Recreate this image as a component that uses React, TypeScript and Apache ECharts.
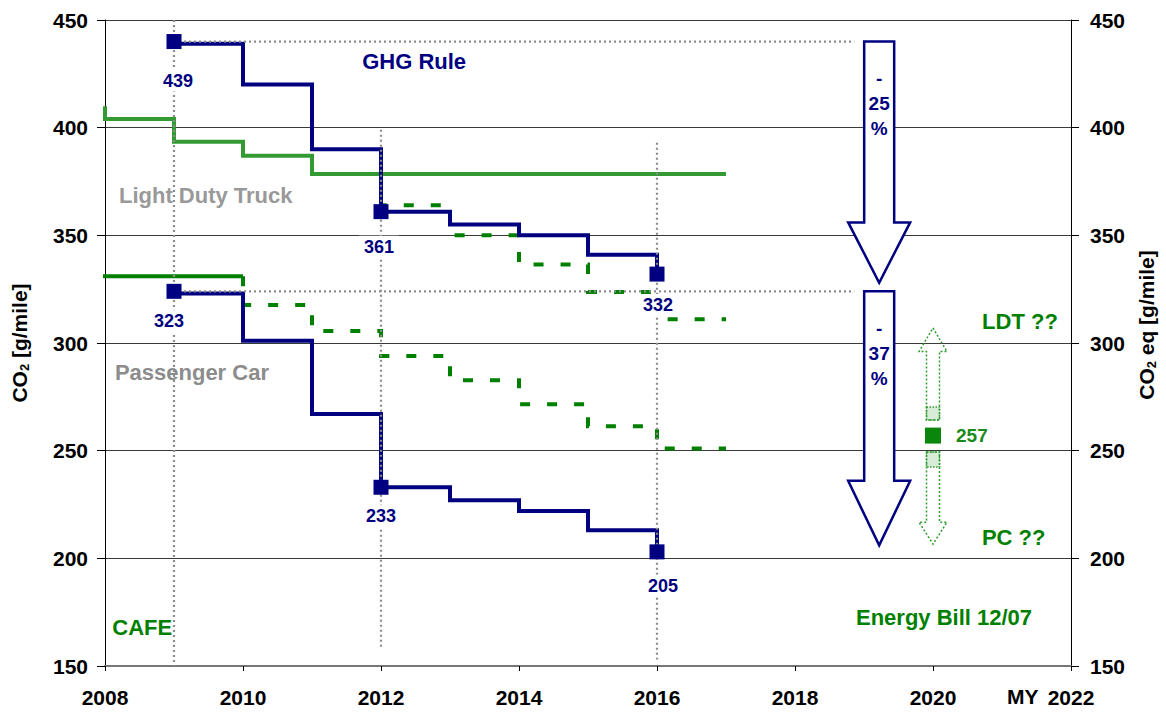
import React, { useEffect, useRef } from "react";
import * as echarts from "echarts";

const FONT = '"Liberation Sans", Arial, Helvetica, sans-serif';
const NAVY = "#000080";
const GREEN = "#008000";
const LIGHT_GREEN = "#339933";
const GRAY_DOT = "#8c8c8c";

// x-axis (model year) ticks
const xMin = 2008;
const xMax = 2022;
const xStep = 2;
// y-axis ticks
const yMin = 150;
const yMax = 450;
const yStep = 50;

// GHG rule (blue step lines): [model year, g/mile]
const ghgLdtSteps: number[][] = [
  [2009, 439], [2010, 420], [2011, 390], [2012, 361],
  [2013, 355], [2014, 350], [2015, 341], [2016, 332],
];
const ghgPcSteps: number[][] = [
  [2009, 323], [2010, 301], [2011, 267], [2012, 233],
  [2013, 227], [2014, 222], [2015, 213], [2016, 203],
];
// GHG key points (square markers) and their labels
const ghgLdtMarkers: number[][] = [[2009, 440], [2012, 361], [2016, 332]];
const ghgLdtLabels = ["439", "361", "332"];
const ghgLdtLabelOffsets = [[4, 39], [-2, 35], [1, 31]];
const ghgPcMarkers: number[][] = [[2009, 324], [2012, 233], [2016, 203]];
const ghgPcLabels = ["323", "233", "205"];
const ghgPcLabelOffsets = [[-5, 30], [0, 29], [6, 34]];

// CAFE (green step lines)
const cafeLdtSolid: number[][] = [
  [2007.88, 409], [2008, 404], [2009, 393.5], [2010, 387], [2011, 378.5], [2017, 378.5],
];
const cafePcSolid: number[][] = [[2007.88, 331], [2010, 331]];
const cafeLdtDashed: number[][] = [
  [2012, 378.5], [2013, 364], [2014, 350], [2015, 336.5], [2016, 323.7], [2017, 311],
];
const cafePcDashed: number[][] = [
  [2010, 331], [2011, 317.6], [2012, 305.6], [2013, 294],
  [2014, 282.7], [2015, 271.6], [2016, 261.3], [2017, 251],
];

// Energy Bill 2020 target
const energyBillPoint: number[][] = [[2020, 257]];
const energyBillLabel = "257";

// dotted reference lines
const refLines: number[][][] = [
  [[2009, 450], [2009, 150]],
  [[2012, 399], [2012, 158]],
  [[2016, 393], [2016, 153]],
  [[2009, 440], [2018.86, 440]],
  [[2009, 324], [2018.86, 324]],
];

// reduction arrows: [x, top, headStart, tip, textY]
const reductionArrows: number[][] = [
  [2019.22, 440, 356, 328, 411.4],
  [2019.22, 324, 236, 206, 295.3],
];
const reductionTexts = ["-\n25\n%", "-\n37\n%"];

// green double arrow: [x, tipTop, headBaseTop, hatchTopA, shaftEndTop, hatchTopB, shaftStartBottom, headBaseBottom, tipBottom]
const rangeArrow: number[][] = [[2020, 307, 296, 270.3, 264.2, 249.4, 242.4, 216.8, 206.6]];

// text annotations
const notePositions: number[][] = [
  [2012.48, 430.6], [2009.46, 368.4], [2009.26, 286.2], [2008.54, 168.1],
  [2020.16, 172.3], [2021.26, 309.9], [2021.17, 209.7],
];
const noteTexts = ["GHG Rule", "Light Duty Truck", "Passenger Car", "CAFE", "Energy Bill 12/07", "LDT ??", "PC ??"];
const noteColors = [NAVY, "#999999", "#8c8c8c", GREEN, GREEN, GREEN, GREEN];

export default function App() {
  const ref = useRef<HTMLDivElement>(null);
  useEffect(() => {
    if (!ref.current) return;
    const chart = echarts.init(ref.current, null, { renderer: "svg" });

    const axisLabel = { color: "#000", fontFamily: FONT, fontWeight: "bold" as const, fontSize: 21 };
    const nameStyle = (pad: number[]) => ({
      color: "#000",
      fontFamily: FONT,
      fontWeight: "bold" as const,
      fontSize: 21,
      padding: pad,
      rich: {
        sub: { fontFamily: FONT, fontWeight: "bold" as const, fontSize: 13, color: "#000", padding: [10, 0, 0, 0] },
      },
    });

    const stepLine = (data: number[][], color: string, step: string, dashed: boolean, clip: boolean, z: number) => ({
      type: "line",
      data,
      step,
      symbol: "none",
      clip,
      z,
      lineStyle: { color, width: 4, opacity: 1, type: dashed ? [10, 17] : "solid", cap: "butt", join: "miter" },
      silent: true,
    });

    const markerLabel = {
      color: NAVY,
      fontFamily: FONT,
      fontWeight: "bold",
      fontSize: 18,
      backgroundColor: "#fff",
      padding: [2, 5],
    };

    const series: any[] = [
      stepLine(cafeLdtSolid, LIGHT_GREEN, "end", false, false, 2),
      stepLine(cafePcSolid, GREEN, "end", false, false, 2),
      stepLine(cafeLdtDashed, GREEN, "start", true, true, 2),
      stepLine(cafePcDashed, GREEN, "start", true, true, 2),
      stepLine(ghgLdtSteps, NAVY, "end", false, true, 3),
      stepLine(ghgPcSteps, NAVY, "end", false, true, 3),
      ...refLines.map((d) => ({
        type: "line",
        data: d,
        symbol: "none",
        z: 4,
        silent: true,
        lineStyle: { color: GRAY_DOT, width: 2.2, type: [2, 3] },
      })),
      {
        type: "custom",
        z: 5,
        silent: true,
        data: reductionArrows,
        renderItem: (params: any, api: any) => {
          const x = api.value(0);
          const pTop = api.coord([x, api.value(1)]);
          const pHs = api.coord([x, api.value(2)]);
          const pTip = api.coord([x, api.value(3)]);
          const pText = api.coord([x, api.value(4)]);
          const cx = pTop[0];
          const sw = 15;
          const hw = 31;
          return {
            type: "group",
            children: [
              {
                type: "polygon",
                shape: {
                  points: [
                    [cx - sw, pTop[1]], [cx + sw, pTop[1]], [cx + sw, pHs[1]], [cx + hw, pHs[1]],
                    [cx, pTip[1]], [cx - hw, pHs[1]], [cx - sw, pHs[1]],
                  ],
                },
                style: { fill: "#fff", stroke: NAVY, lineWidth: 2.5 },
              },
              {
                type: "text",
                x: cx,
                y: pText[1],
                style: {
                  text: reductionTexts[params.dataIndex],
                  fill: NAVY,
                  font: `bold 19px ${FONT}`,
                  align: "center",
                  verticalAlign: "middle",
                  lineHeight: 25,
                },
              },
            ],
          };
        },
      },
      {
        type: "custom",
        z: 5,
        silent: true,
        data: rangeArrow,
        renderItem: (params: any, api: any) => {
          const x = api.value(0);
          const c = (v: number) => api.coord([x, v]);
          const cx = c(api.value(1))[0];
          const tipT = c(api.value(1))[1];
          const hbT = c(api.value(2))[1];
          const hatchA = c(api.value(3))[1];
          const shaftEndT = c(api.value(4))[1];
          const hatchB = c(api.value(5))[1];
          const shaftStartB = c(api.value(6))[1];
          const hbB = c(api.value(7))[1];
          const tipB = c(api.value(8))[1];
          const sw = 6.5;
          const hw = 14;
          const dotted = { fill: "rgba(255,255,255,0)", stroke: "#2e9b2e", lineWidth: 1.5, lineDash: [2, 2] };
          const hatch = { fill: "rgba(60,160,60,0.2)", stroke: "#2e9b2e", lineWidth: 1.5, lineDash: [1.5, 1.5] };
          return {
            type: "group",
            children: [
              {
                type: "polygon",
                shape: {
                  points: [
                    [cx, tipT], [cx + hw, hbT], [cx + sw, hbT], [cx + sw, shaftEndT],
                    [cx - sw, shaftEndT], [cx - sw, hbT], [cx - hw, hbT],
                  ],
                },
                style: dotted,
              },
              { type: "rect", shape: { x: cx - sw, y: hatchA, width: sw * 2, height: shaftEndT - hatchA }, style: hatch },
              {
                type: "polygon",
                shape: {
                  points: [
                    [cx - sw, hatchB], [cx + sw, hatchB], [cx + sw, hbB], [cx + hw, hbB],
                    [cx, tipB], [cx - hw, hbB], [cx - sw, hbB],
                  ],
                },
                style: dotted,
              },
              { type: "rect", shape: { x: cx - sw, y: hatchB, width: sw * 2, height: shaftStartB - hatchB }, style: hatch },
            ],
          };
        },
      },
      {
        type: "custom",
        z: 6,
        silent: true,
        data: notePositions,
        renderItem: (params: any, api: any) => {
          const p = api.coord([api.value(0), api.value(1)]);
          return {
            type: "text",
            x: p[0],
            y: p[1],
            style: {
              text: noteTexts[params.dataIndex],
              fill: noteColors[params.dataIndex],
              font: `bold 22px ${FONT}`,
              align: "center",
              verticalAlign: "middle",
            },
          };
        },
      },
      {
        type: "scatter",
        z: 7,
        silent: true,
        symbol: "rect",
        symbolSize: 15,
        itemStyle: { color: NAVY, opacity: 1 },
        data: ghgLdtMarkers.map((v, i) => ({
          value: v,
          label: {
            show: true,
            position: "inside",
            offset: ghgLdtLabelOffsets[i],
            formatter: ghgLdtLabels[i],
          },
        })),
        label: markerLabel,
      },
      {
        type: "scatter",
        z: 7,
        silent: true,
        symbol: "rect",
        symbolSize: 15,
        itemStyle: { color: NAVY, opacity: 1 },
        data: ghgPcMarkers.map((v, i) => ({
          value: v,
          label: {
            show: true,
            position: "inside",
            offset: ghgPcLabelOffsets[i],
            formatter: ghgPcLabels[i],
          },
        })),
        label: markerLabel,
      },
      {
        type: "scatter",
        z: 7,
        silent: true,
        symbol: "rect",
        symbolSize: 16,
        itemStyle: { color: "#0a870a", opacity: 1 },
        data: energyBillPoint,
        label: {
          show: true,
          position: "right",
          distance: 15,
          formatter: energyBillLabel,
          color: "#1a8a1a",
          fontFamily: FONT,
          fontWeight: "bold",
          fontSize: 19,
        },
      },
    ];

    chart.setOption({
      animation: false,
      backgroundColor: "#fff",
      grid: { left: 105, right: 88, top: 20, bottom: 47, containLabel: false },
      xAxis: {
        type: "value",
        min: xMin,
        max: xMax,
        interval: xStep,
        axisLine: { show: true, lineStyle: { color: "#777", width: 2 } },
        axisTick: { show: true, length: 5, lineStyle: { color: "#000" } },
        axisLabel: { ...axisLabel, margin: 21, formatter: (v: number) => String(v) },
        splitLine: { show: false },
      },
      yAxis: [
        {
          type: "value",
          min: yMin,
          max: yMax,
          interval: yStep,
          position: "left",
          name: "CO{sub|2} [g/mile]",
          nameLocation: "middle",
          nameGap: 74,
          nameTextStyle: nameStyle([0, 0, 0, 0]),
          axisLine: { show: true, lineStyle: { color: "#000", width: 1 } },
          axisTick: { show: true, length: 8, lineStyle: { color: "#000" } },
          axisLabel: { ...axisLabel, margin: 17 },
          splitLine: { show: true, lineStyle: { color: "#3a3a3a", width: 1 } },
        },
        {
          type: "value",
          min: yMin,
          max: yMax,
          interval: yStep,
          position: "right",
          name: "CO{sub|2} eq [g/mile]",
          nameLocation: "middle",
          nameGap: 64,
          nameTextStyle: nameStyle([0, 0, 0, 36]),
          axisLine: { show: true, lineStyle: { color: "#000", width: 1 } },
          axisTick: { show: true, length: 8, lineStyle: { color: "#000" } },
          axisLabel: { ...axisLabel, margin: 19 },
          splitLine: { show: false },
        },
      ],
      graphic: [
        {
          type: "text",
          left: 1007,
          top: 686,
          style: { text: "MY", fill: "#000", font: `bold 21px ${FONT}` },
        },
      ],
      series,
    });

    return () => chart.dispose();
  }, []);

  return (
    <div
      ref={ref}
      style={{ position: "absolute", left: 0, top: 0, width: 1166, height: 713, background: "#fff" }}
    />
  );
}
